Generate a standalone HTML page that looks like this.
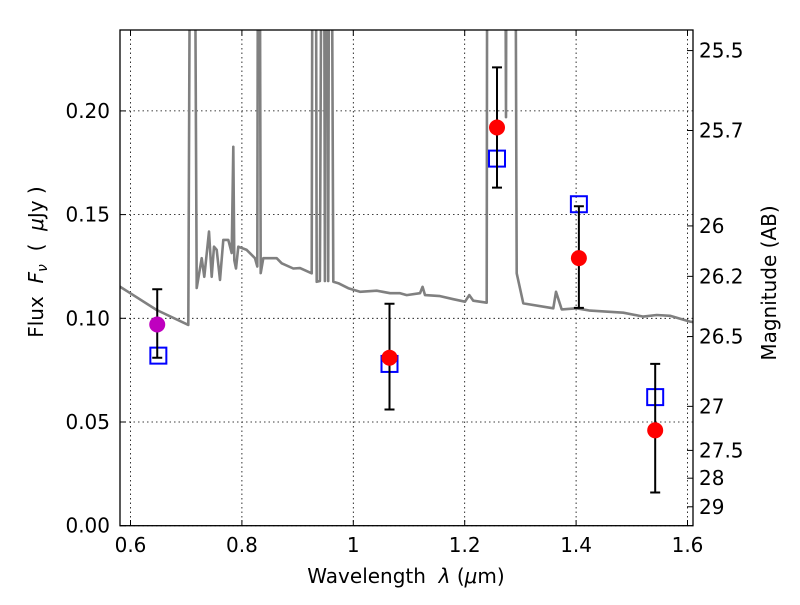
<!DOCTYPE html>
<html><head><meta charset="utf-8">
<style>
html,body{margin:0;padding:0;background:#fff;}
svg text{font-family:"DejaVu Sans","Liberation Sans",sans-serif;fill:#000;white-space:pre;}
</style></head>
<body>
<svg id="chart" width="800" height="600" viewBox="0 0 800 600" xmlns="http://www.w3.org/2000/svg">
<defs><clipPath id="plotclip"><rect x="120" y="30" width="573" height="495.7"/></clipPath></defs>
<rect width="800" height="600" fill="#fff"/>
<g id="grid"></g>
<g id="spec" clip-path="url(#plotclip)"></g>
<g id="marks"></g>
<rect x="120" y="30" width="573" height="495.7" fill="none" stroke="#000" stroke-width="1.3"/>
<g id="axes"></g>
<text x="406" y="583" font-size="20" text-anchor="middle">Wavelength  <tspan font-style="italic">λ</tspan> (<tspan font-style="italic">μ</tspan>m)</text>
<text transform="translate(43,262) rotate(-90)" font-size="20" text-anchor="middle">Flux  <tspan font-style="italic">F</tspan><tspan font-style="italic" font-size="14" dy="4">ν</tspan><tspan dy="-4">  (  </tspan><tspan font-style="italic">μ</tspan>Jy )</text>
<text transform="translate(776,283) rotate(-90)" font-size="20" text-anchor="middle">Magnitude (AB)</text>
</svg>
<script>
const specLam = [0.581,0.647,0.7038,0.7099,0.712,0.7188,0.7278,0.7325,0.7409,0.7458,0.7499,0.7548,0.7607,0.7666,0.7756,0.7817,0.7846,0.7864,0.7894,0.7935,0.8086,0.8235,0.8276,0.8302,0.8338,0.8384,0.8625,0.8715,0.8923,0.9043,0.9253,0.9282,0.9312,0.9343,0.9400,0.9461,0.9490,0.9522,0.9550,0.9581,0.9641,0.9731,0.991,1.012,1.042,1.066,1.084,1.0959,1.1197,1.1245,1.1287,1.1556,1.1795,1.2005,1.2083,1.2154,1.2395,1.2413,1.2700,1.2741,1.2765,1.2885,1.2934,1.3052,1.3591,1.3639,1.3742,1.4011,1.425,1.4847,1.5206,1.5447,1.5686,1.6045,1.62];
const specFlux = [0.1153,0.104,0.0968,0.5,0.5,0.1146,0.129,0.120,0.1418,0.120,0.1345,0.133,0.1185,0.1378,0.1378,0.1315,0.1827,0.128,0.124,0.1345,0.133,0.129,0.125,0.5,0.1218,0.129,0.129,0.1265,0.124,0.1242,0.1217,0.5,0.5,0.1176,0.118,0.5,0.118,0.5,0.118,0.5,0.1176,0.1169,0.1145,0.1128,0.1133,0.1121,0.1121,0.1112,0.1121,0.1152,0.1112,0.1107,0.1092,0.108,0.1112,0.1085,0.1075,0.5,0.5,0.197,0.5,0.5,0.1217,0.1072,0.1048,0.1128,0.1043,0.1048,0.1037,0.1027,0.1008,0.1016,0.1012,0.0984,0.0978];
const modelLam = [0.65,1.065,1.258,1.405,1.542];
const modelFlux = [0.082,0.078,0.177,0.155,0.062];
const obsLam = [0.648,1.065,1.258,1.405,1.542];
const obsFlux = [0.097,0.081,0.192,0.129,0.046];
const obsErrLo = [0.081,0.056,0.163,0.105,0.016];
const obsErrHi = [0.114,0.107,0.221,0.154,0.078];
const obsColor = ['#bf00bf','red','red','red','red'];
const xTicks = [0.6,0.8,1.0,1.2,1.4,1.6];
const xTickLabels = ['0.6','0.8','1','1.2','1.4','1.6'];
const yTicks = [0,0.05,0.10,0.15,0.20];
const yTickLabels = ['0.00','0.05','0.10','0.15','0.20'];
const magTicks = [25.5,25.7,26,26.2,26.5,27,27.5,28,29];
const magTickLabels = ['25.5','25.7','26','26.2','26.5','27','27.5','28','29'];

const NS='http://www.w3.org/2000/svg';
const X = v => 130.5 + (v-0.6)*557;
const Y = v => 525.7 - v*2074;
const magToFlux = m => Math.pow(10,(23.9-m)/2.5);
function mk(tag, attrs, parent){const e=document.createElementNS(NS,tag);for(const k in attrs)e.setAttribute(k,attrs[k]);parent.appendChild(e);return e;}
const grid=document.getElementById('grid'), axes=document.getElementById('axes'), spec=document.getElementById('spec'), marks=document.getElementById('marks');

xTicks.forEach((t,i)=>{
  const x=X(t);
  const g=mk('line',{x1:x,x2:x,y1:30,y2:525.7,stroke:'#000','stroke-width':0.8,'stroke-dasharray':'1.5,3'},grid);
  
  
  mk('line',{x1:x,x2:x,y1:525.7,y2:520,stroke:'#000','stroke-width':1},axes);
  mk('line',{x1:x,x2:x,y1:30,y2:35.7,stroke:'#000','stroke-width':1},axes);
  const tx=mk('text',{x:x,y:552,'font-size':20,'text-anchor':'middle'},axes);
  tx.textContent=xTickLabels[i];
  
  
});
yTicks.forEach((t,i)=>{
  const y=Y(t);
  const g=mk('line',{x1:120,x2:693,y1:y,y2:y,stroke:'#000','stroke-width':0.8,'stroke-dasharray':'1.5,3'},grid);
  
  
  mk('line',{x1:120,x2:126,y1:y,y2:y,stroke:'#000','stroke-width':1},axes);
  const tx=mk('text',{x:110,y:y+7,'font-size':20,'text-anchor':'end'},axes);
  tx.textContent=yTickLabels[i];
  
  
});
magTicks.forEach((m,i)=>{
  const y=Y(magToFlux(m));
  mk('line',{x1:693,x2:687,y1:y,y2:y,stroke:'#000','stroke-width':1},axes);
  const tx=mk('text',{x:699,y:y+7,'font-size':20},axes);
  tx.textContent=magTickLabels[i];
  
  
});

const pts=specLam.map((l,i)=>X(l).toFixed(1)+','+Y(specFlux[i]).toFixed(1)).join(' ');
const pl=mk('polyline',{points:pts,fill:'none',stroke:'#808080','stroke-width':2.6,'stroke-linejoin':'round'},spec);



modelLam.forEach((l,i)=>{
  const x=X(l), y=Y(modelFlux[i]);
  const r=mk('rect',{x:x-8,y:y-8,width:16,height:16,fill:'none',stroke:'#0000ff','stroke-width':2},marks);
  
  
});
obsLam.forEach((l,i)=>{
  const x=X(l), y1=Y(obsErrLo[i]), y2=Y(obsErrHi[i]);
  const e=mk('path',{d:`M${x},${y1}V${y2}M${x-5},${y1}H${x+5}M${x-5},${y2}H${x+5}`,stroke:'#000','stroke-width':2,fill:'none'},marks);
  
  
  const c=mk('circle',{cx:x,cy:Y(obsFlux[i]),r:8,fill:obsColor[i]},marks);
  
  
});
</script>
</body></html>
